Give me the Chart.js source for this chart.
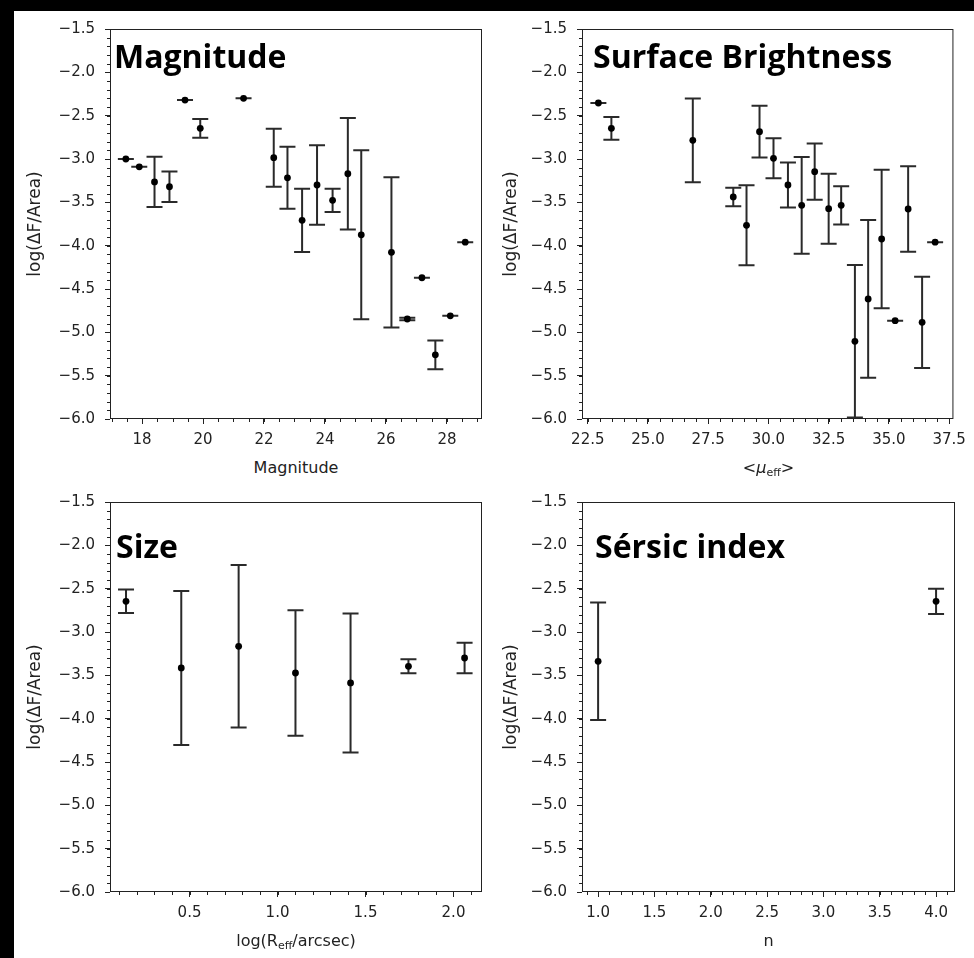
<!DOCTYPE html>
<html>
<head>
<meta charset="utf-8">
<script src="https://cdn.jsdelivr.net/npm/chart.js@4.4.0/dist/chart.umd.min.js"></script>
<style>
  html, body { margin: 0; padding: 0; background: #000; width: 974px; height: 958px; overflow: hidden; }
  #sheet { position: absolute; left: 14px; top: 11px; width: 960px; height: 947px; background: #fff; }
  canvas { position: absolute; }
  .tag { position: absolute; font-family: 'Open Sans', sans-serif; font-weight: 700; font-size: 32px; line-height: 32px; color: #000; white-space: nowrap; }
  .xlab { position: absolute; font-family: 'DejaVu Sans', sans-serif; font-size: 16px; line-height: 20px; color: #222; text-align: center; white-space: nowrap; }
  .xlab sub { font-size: 11px; vertical-align: -3px; }
</style>
</head>
<body>
<div id="sheet"></div>
<script>
// values: log(dF/Area) with symmetric errors
const magX   = [17.47, 17.91, 18.41, 18.90, 19.41, 19.91, 21.33, 22.32, 22.77, 23.25, 23.74, 24.25, 24.75, 25.19, 26.18, 26.70, 27.18, 27.62, 28.11, 28.60];
const magY   = [-3.00, -3.09, -3.265, -3.32, -2.32, -2.646, -2.30, -2.985, -3.217, -3.708, -3.30, -3.477, -3.17, -3.875, -4.077, -4.846, -4.37, -5.26, -4.81, -3.96];
const magErr = [0, 0, 0.29, 0.175, 0, 0.108, 0, 0.335, 0.357, 0.366, 0.46, 0.134, 0.644, 0.975, 0.867, 0.015, 0, 0.166, 0, 0];

const sbX   = [22.94, 23.48, 26.86, 28.54, 29.09, 29.63, 30.21, 30.81, 31.38, 31.92, 32.50, 33.02, 33.59, 34.14, 34.70, 35.26, 35.80, 36.38, 36.92];
const sbY   = [-2.354, -2.646, -2.785, -3.438, -3.765, -2.685, -2.992, -3.30, -3.535, -3.146, -3.573, -3.535, -5.104, -4.615, -3.923, -4.865, -3.577, -4.885, -3.96];
const sbErr = [0, 0.131, 0.483, 0.106, 0.461, 0.298, 0.231, 0.26, 0.558, 0.325, 0.404, 0.221, 0.88, 0.91, 0.8, 0, 0.493, 0.527, 0];

const sizeX   = [0.139, 0.453, 0.779, 1.102, 1.415, 1.744, 2.063];
const sizeY   = [-2.646, -3.415, -3.165, -3.473, -3.588, -3.396, -3.30];
const sizeErr = [0.135, 0.889, 0.937, 0.725, 0.802, 0.081, 0.177];

const nX   = [1.0, 4.0];
const nY   = [-3.338, -2.646];
const nErr = [0.677, 0.145];

// tick labels
const yTicks    = [-6, -5.5, -5, -4.5, -4, -3.5, -3, -2.5, -2, -1.5];
const magTicks  = [18, 20, 22, 24, 26, 28];
const sbTicks   = [22.5, 25, 27.5, 30, 32.5, 35, 37.5];
const sizeTicks = [0.5, 1, 1.5, 2];
const nTicks    = [1, 1.5, 2, 2.5, 3, 3.5, 4];

const yTitle = 'log(\u0394F/Area)';
const ink = '#222';
const tickFont = { family: "'DejaVu Sans', sans-serif", size: 15 };

const fmt = (v, d) => v.toFixed(d).replace('-', '\u2212');

// error bars under the dots, capped like matplotlib's errorbar
const errorBars = {
  id: 'errorBars',
  beforeDatasetsDraw(chart) {
    const { ctx, chartArea: a } = chart;
    const y = chart.scales.y;
    const pts = chart.getDatasetMeta(0).data;
    const raw = chart.data.datasets[0].data;
    ctx.save();
    ctx.beginPath();
    ctx.rect(a.left, a.top, a.width, a.height);
    ctx.clip();
    ctx.strokeStyle = '#2a2a2a';
    ctx.lineWidth = 2;
    pts.forEach((p, i) => {
      const d = raw[i];
      const top = y.getPixelForValue(d.y + d.err);
      const bot = y.getPixelForValue(d.y - d.err);
      ctx.beginPath();
      ctx.moveTo(p.x, top); ctx.lineTo(p.x, bot);
      ctx.moveTo(p.x - 8, top); ctx.lineTo(p.x + 8, top);
      ctx.moveTo(p.x - 8, bot); ctx.lineTo(p.x + 8, bot);
      ctx.stroke();
    });
    ctx.restore();
  }
};

// box around the axes and the minor ticks
const frame = {
  id: 'frame',
  afterDraw(chart, args, opts) {
    const { ctx, chartArea: a, scales: { x, y } } = chart;
    ctx.save();
    ctx.strokeStyle = ink;
    ctx.lineWidth = 1;
    ctx.strokeRect(a.left + 0.5, a.top + 0.5, a.width - 1, a.height - 1);
    ctx.beginPath();
    for (let v = Math.ceil(x.min / opts.xMinor) * opts.xMinor; v <= x.max + 1e-9; v += opts.xMinor) {
      const px = Math.round(x.getPixelForValue(v)) + 0.5;
      ctx.moveTo(px, a.bottom); ctx.lineTo(px, a.bottom + 3);
    }
    for (let v = -6; v <= -1.5 + 1e-9; v += 0.1) {
      const py = Math.round(y.getPixelForValue(v)) + 0.5;
      ctx.moveTo(a.left - 3, py); ctx.lineTo(a.left, py);
    }
    ctx.stroke();
    ctx.restore();
  }
};

function panel(box, xs, ys, errs, xMin, xMax, xTicks, xDigits, xMinor, titlePad, tag, tagLeft, tagTop, xTitle) {
  const padTop = 20, padRight = 18, yW = 96, xH = 30;
  const c = document.createElement('canvas');
  const left = box.left - yW, top = box.top - padTop;
  const w = box.right + padRight - left, h = box.bottom + xH - top;
  c.width = w; c.height = h;
  c.style.left = left + 'px'; c.style.top = top + 'px';
  c.style.width = w + 'px'; c.style.height = h + 'px';
  document.body.appendChild(c);

  new Chart(c, {
    type: 'scatter',
    data: {
      datasets: [{
        data: xs.map((v, i) => ({ x: v, y: ys[i], err: errs[i] })),
        backgroundColor: '#000',
        borderColor: '#000',
        pointRadius: 3.4,
        pointHoverRadius: 3.4,
        borderWidth: 0
      }]
    },
    options: {
      responsive: false,
      animation: false,
      devicePixelRatio: 1,
      layout: { padding: { top: padTop, right: padRight, left: 0, bottom: 0 } },
      plugins: { legend: { display: false }, tooltip: { enabled: false }, frame: { xMinor } },
      scales: {
        x: {
          type: 'linear', min: xMin, max: xMax,
          afterBuildTicks: s => { s.ticks = xTicks.map(v => ({ value: v })); },
          afterFit: s => { s.height = xH; },
          grid: { display: true, drawOnChartArea: false, drawTicks: true, tickLength: 5, color: ink },
          border: { display: false },
          ticks: { autoSkip: false, maxRotation: 0, padding: 7, color: ink, font: tickFont, callback: v => fmt(v, xDigits) }
        },
        y: {
          type: 'linear', min: -6, max: -1.5,
          afterBuildTicks: s => { s.ticks = yTicks.map(v => ({ value: v })); },
          afterFit: s => { s.width = yW; },
          grid: { display: true, drawOnChartArea: false, drawTicks: true, tickLength: 5, color: ink },
          border: { display: false },
          ticks: { padding: 10, color: ink, font: tickFont, callback: v => fmt(v, 1) },
          title: { display: true, text: yTitle, color: ink, font: { family: "'DejaVu Sans', sans-serif", size: 17 }, padding: { top: titlePad, bottom: 0 } }
        }
      }
    },
    plugins: [errorBars, frame]
  });

  const t = document.createElement('div');
  t.className = 'tag';
  t.textContent = tag;
  t.style.left = tagLeft + 'px';
  t.style.top = tagTop + 'px';
  document.body.appendChild(t);

  const xl = document.createElement('div');
  xl.className = 'xlab';
  xl.innerHTML = xTitle;
  xl.style.left = box.left + 'px';
  xl.style.width = (box.right - box.left) + 'px';
  xl.style.top = (box.bottom + 39) + 'px';
  document.body.appendChild(xl);
}

panel({ left: 110, top: 29, right: 482, bottom: 419 }, magX, magY, magErr, 16.95, 29.15, magTicks, 0, 0.5, 11,
  'Magnitude', 114, 40, 'Magnitude');
panel({ left: 582, top: 29, right: 955, bottom: 419 }, sbX, sbY, sbErr, 22.26, 37.68, sbTicks, 1, 0.5, 15,
  'Surface Brightness', 593, 40, '&lt;<i>\u03bc</i><sub>eff</sub>&gt;');
panel({ left: 110, top: 502, right: 482, bottom: 892 }, sizeX, sizeY, sizeErr, 0.048, 2.162, sizeTicks, 1, 0.1, 11,
  'Size', 116, 530, 'log(R<sub>eff</sub>/arcsec)');
panel({ left: 582, top: 502, right: 955, bottom: 892 }, nX, nY, nErr, 0.857, 4.168, nTicks, 1, 0.1, 15,
  'S\u00e9rsic index', 595, 530, 'n');
</script>
</body>
</html>
